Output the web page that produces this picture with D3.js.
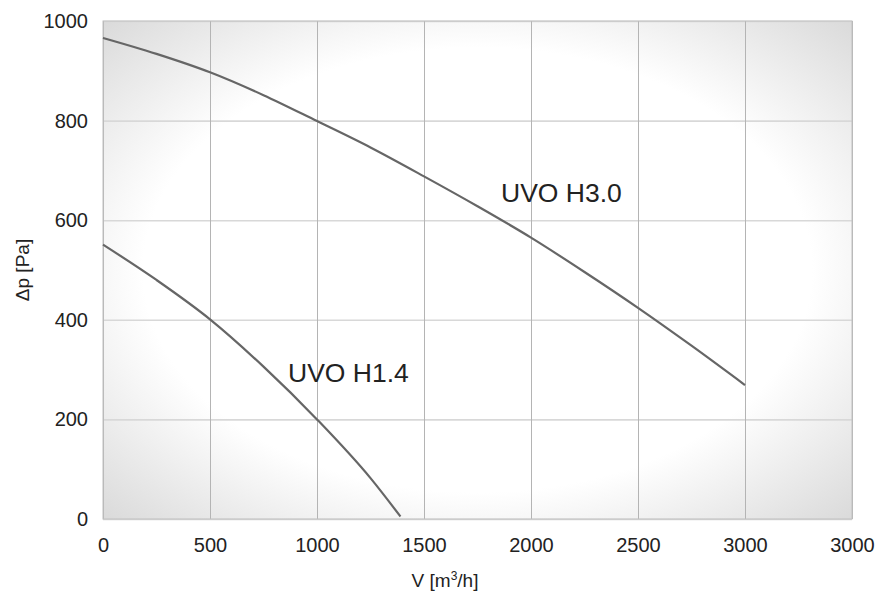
<!DOCTYPE html>
<html>
<head>
<meta charset="utf-8">
<title>UVO</title>
<style>
  body { margin: 0; background: #fff; }
  text { font-family: "Liberation Sans", Arial, sans-serif; fill: #222; }
</style>
<script src="https://d3js.org/d3.v7.min.js"></script>
</head>
<body>
<svg id="chart" width="876" height="594"></svg>
<script>
// tick labels (the last column is labelled 3000 again in the original)
var xTicks = [0, 500, 1000, 1500, 2000, 2500, 3000, 3500];
var xTickLabels = ["0", "500", "1000", "1500", "2000", "2500", "3000", "3000"];
var yTicks = [0, 200, 400, 600, 800, 1000];

// curve UVO H3.0
var h30Flow = [0, 250, 500, 750, 1000, 1250, 1500, 1750, 2000, 2250, 2500, 2750, 3000];
var h30Pres = [966, 934, 897, 851, 799, 746, 688, 628, 565, 496, 424, 348, 269];

// curve UVO H1.4
var h14Flow = [0, 250, 500, 750, 1000, 1250, 1390];
var h14Pres = [551, 480, 401, 306, 200, 82, 5];

var svg = d3.select("#chart");
var m = {left: 103, right: 852, top: 21, bottom: 519};

var x = d3.scaleLinear().domain([0, 3500]).range([m.left, m.right]);
var y = d3.scaleLinear().domain([0, 1000]).range([m.bottom, m.top]);

// background gradient
var defs = svg.append("defs");
var grad = defs.append("radialGradient").attr("id", "bg")
  .attr("cx", "50%").attr("cy", "50%").attr("r", "72%");
grad.append("stop").attr("offset", "0%").attr("stop-color", "#ffffff");
grad.append("stop").attr("offset", "62%").attr("stop-color", "#ffffff");
grad.append("stop").attr("offset", "100%").attr("stop-color", "#d8d8d8");

svg.append("rect")
  .attr("x", m.left).attr("y", m.top)
  .attr("width", m.right - m.left).attr("height", m.bottom - m.top)
  .attr("fill", "url(#bg)");

// horizontal grid
svg.append("g")
  .attr("transform", "translate(" + m.left + ",0)")
  .call(d3.axisLeft(y).tickValues(yTicks).tickSize(-(m.right - m.left)).tickFormat(""))
  .call(g => g.select(".domain").remove())
  .call(g => g.selectAll("line").attr("stroke", "#d8d8d8").attr("stroke-width", 1.6));

// vertical grid
svg.append("g")
  .attr("transform", "translate(0," + m.bottom + ")")
  .call(d3.axisBottom(x).tickValues(xTicks).tickSize(-(m.bottom - m.top)).tickFormat(""))
  .call(g => g.select(".domain").remove())
  .call(g => g.selectAll("line").attr("stroke", "#b4b4b4").attr("stroke-width", 1));

// frame
svg.append("rect")
  .attr("x", m.left).attr("y", m.top)
  .attr("width", m.right - m.left).attr("height", m.bottom - m.top)
  .attr("fill", "none").attr("stroke", "#c0c0c0").attr("stroke-width", 1);

// tick labels
svg.append("g")
  .attr("transform", "translate(" + m.left + ",0)")
  .call(d3.axisLeft(y).tickValues(yTicks).tickSize(0).tickPadding(15).tickFormat(d3.format("d")))
  .call(g => g.select(".domain").remove())
  .call(g => g.selectAll("text").style("font-size", "20px").attr("fill", "#222"));

svg.append("g")
  .attr("transform", "translate(0," + m.bottom + ")")
  .call(d3.axisBottom(x).tickValues(xTicks).tickSize(0).tickPadding(19)
    .tickFormat((d, i) => xTickLabels[i]))
  .call(g => g.select(".domain").remove())
  .call(g => g.selectAll("text").style("font-size", "20px").attr("fill", "#222"));

// axis titles
var xTitle = svg.append("text")
  .attr("x", 445).attr("y", 587)
  .attr("text-anchor", "middle")
  .style("font-size", "19px");
xTitle.append("tspan").text("V [m");
xTitle.append("tspan").text("3").attr("dy", -7).style("font-size", "12px");
xTitle.append("tspan").text("/h]").attr("dy", 7);

svg.append("text")
  .attr("transform", "translate(29,270) rotate(-90)")
  .attr("text-anchor", "middle")
  .style("font-size", "19px")
  .text("\u0394p [Pa]");

// curves
var line = d3.line().curve(d3.curveMonotoneX);

function drawCurve(flow, pres) {
  svg.append("path")
    .attr("d", line(flow.map((f, i) => [x(f), y(pres[i])])))
    .attr("fill", "none")
    .attr("stroke", "#666")
    .attr("stroke-width", 2.2);
}
drawCurve(h30Flow, h30Pres);
drawCurve(h14Flow, h14Pres);

// curve labels
svg.append("text").attr("x", 501).attr("y", 202)
  .style("font-size", "26.5px").text("UVO H3.0");
svg.append("text").attr("x", 288).attr("y", 382)
  .style("font-size", "26.5px").text("UVO H1.4");
</script>
</body>
</html>
